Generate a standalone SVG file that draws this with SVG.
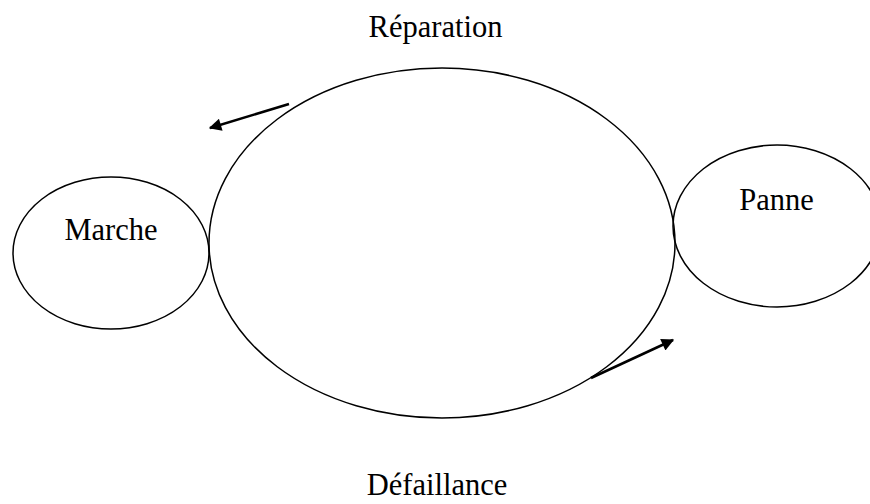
<svg xmlns="http://www.w3.org/2000/svg" width="870" height="504" viewBox="0 0 870 504">
<style>
.n{fill:none;stroke:#000;stroke-width:1.5}
.t{font-family:"Liberation Serif","Times New Roman",serif;font-size:30.5px;fill:#000;text-anchor:middle}
.c{stroke:#000;stroke-width:2.5;fill:none}
</style>
<defs>
<marker id="ah" viewBox="0 0 10 10" refX="9" refY="5" markerWidth="6" markerHeight="5" markerUnits="strokeWidth" orient="auto">
<path d="M0,0 L10,5 L0,10 z" fill="#000"/>
</marker>
</defs>
<rect width="870" height="504" fill="#fff"/>
<g id="cycle"><ellipse class="n" cx="442" cy="243" rx="233" ry="175"/></g>
<g id="marche"><ellipse class="n" cx="111" cy="253" rx="98" ry="76"/><text class="t" x="111" y="240">Marche</text></g>
<g id="panne"><ellipse class="n" cx="777" cy="226" rx="104" ry="81"/><text class="t" x="776.5" y="210">Panne</text></g>
<g id="reparation"><text class="t" x="435.5" y="37">Réparation</text></g>
<g id="defaillance"><text class="t" x="437" y="495">Défaillance</text></g>
<g id="connectors">
<line class="c" x1="289" y1="104" x2="210" y2="128" marker-end="url(#ah)"/>
<line class="c" x1="591" y1="378" x2="673" y2="340" marker-end="url(#ah)"/>
</g>
</svg>
